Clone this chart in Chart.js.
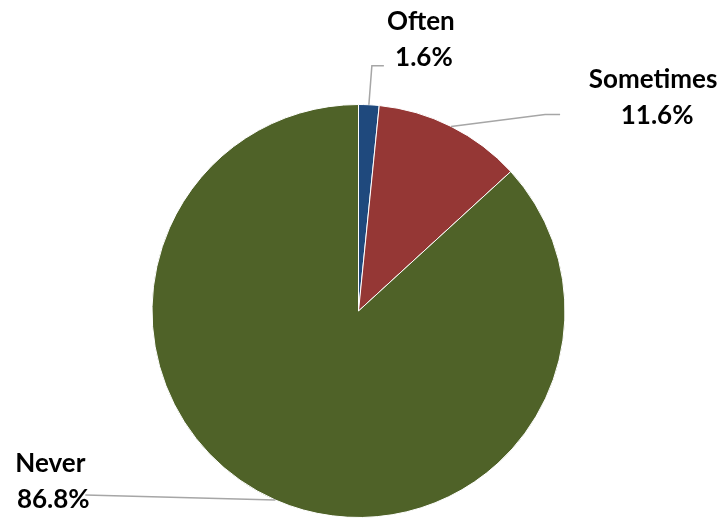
<!DOCTYPE html>
<html>
<head>
<meta charset="utf-8">
<script src="https://cdn.jsdelivr.net/npm/chart.js@4/dist/chart.umd.min.js"></script>
<style>
    html, body { margin: 0; padding: 0; background: #fff; }
    #wrap { width: 725px; height: 519px; }
</style>
</head>
<body>
<div id="wrap"><canvas id="pieChart" width="725" height="519"></canvas></div>
<script>
const categories = ['Often', 'Sometimes', 'Never'];
const percentages = [1.6, 11.6, 86.8];
const sliceColors = ['#1F497D', '#953735', '#4F6228'];

// label placement, relative to the slice's outer mid point
const labelOffsets = [
    { line: [[3, -39], [15, -39]], text: [52, -83] },
    { line: [[94, -12], [109, -12]], text: [202, -47] },
    { line: [[-190, -5]], text: [-225, -36] }
];

const leaderLabels = {
    id: 'leaderLabels',
    afterDraw(chart) {
        const ctx = chart.ctx;
        const arcs = chart.getDatasetMeta(0).data;
        ctx.save();
        arcs.forEach((arc, i) => {
            const mid = (arc.startAngle + arc.endAngle) / 2;
            const ax = arc.x + Math.cos(mid) * arc.outerRadius;
            const ay = arc.y + Math.sin(mid) * arc.outerRadius;
            const off = labelOffsets[i];

            ctx.strokeStyle = '#a6a6a6';
            ctx.lineWidth = 1.5;
            ctx.beginPath();
            ctx.moveTo(ax, ay);
            off.line.forEach(p => ctx.lineTo(ax + p[0], ay + p[1]));
            ctx.stroke();

            ctx.fillStyle = '#000';
            ctx.font = 'bold 26px Lato';
            ctx.textAlign = 'center';
            ctx.textBaseline = 'middle';
            const tx = ax + off.text[0];
            const ty = ay + off.text[1];
            ctx.fillText(categories[i], tx, ty);
            ctx.fillText(percentages[i].toFixed(1) + '%', tx + (i === 1 ? 4 : 3), ty + 36);
        });
        ctx.restore();
    }
};

new Chart(document.getElementById('pieChart'), {
    type: 'pie',
    data: {
        labels: categories,
        datasets: [{
            data: percentages,
            backgroundColor: sliceColors,
            borderColor: '#ffffff',
            borderWidth: 1
        }]
    },
    options: {
        responsive: false,
        animation: false,
        layout: { padding: { top: 104, bottom: 1, left: 0, right: 8 } },
        plugins: {
            legend: { display: false },
            tooltip: { enabled: false }
        }
    },
    plugins: [leaderLabels]
});
</script>
</body>
</html>
